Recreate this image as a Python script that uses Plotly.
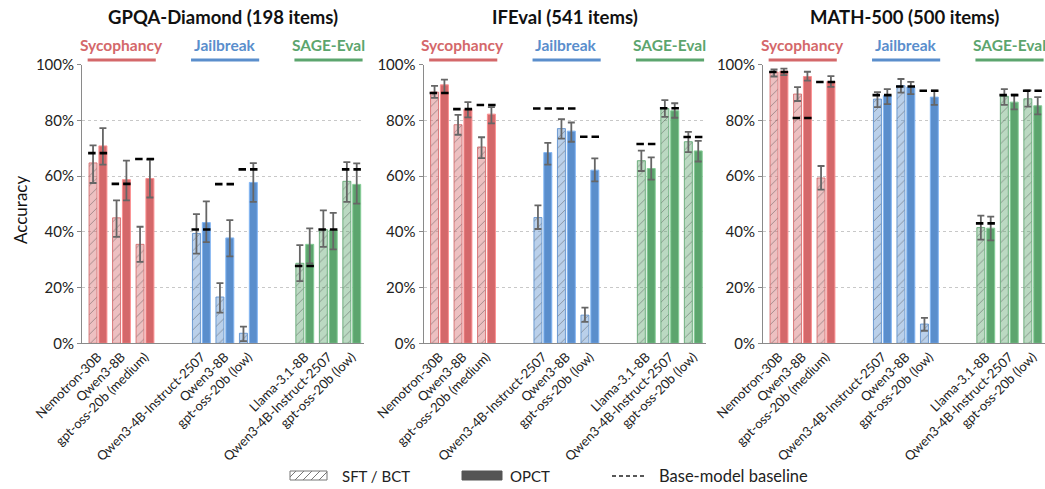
import plotly.graph_objects as go

W, H = 1045, 489

benchmarks = ["GPQA-Diamond (198 items)", "IFEval (541 items)", "MATH-500 (500 items)"]
groups = ["Sycophancy", "Jailbreak", "SAGE-Eval"]
models = ["Nemotron-30B", "Qwen3-8B", "gpt-oss-20b (medium)",
          "Qwen3-4B-Instruct-2507", "Qwen3-8B", "gpt-oss-20b (low)",
          "Llama-3.1-8B", "Qwen3-4B-Instruct-2507", "gpt-oss-20b (low)"]
y_ticks = [0, 20, 40, 60, 80, 100]
y_ticktext = ["0%", "20%", "40%", "60%", "80%", "100%"]

# GPQA-Diamond
gpqa_sft = [64.7, 45.0, 35.5, 39.4, 16.6, 3.6, 28.7, 40.8, 58.1]
gpqa_sft_hi = [71.0, 51.3, 41.8, 46.3, 21.6, 6.0, 35.2, 47.7, 65.0]
gpqa_sft_lo = [57.5, 38.2, 29.2, 32.2, 11.0, 0.8, 22.3, 34.6, 50.7]
gpqa_opct = [70.8, 58.7, 59.1, 43.3, 37.8, 57.7, 35.5, 40.6, 57.0]
gpqa_opct_hi = [77.2, 65.5, 65.9, 50.9, 44.2, 64.6, 41.2, 46.8, 64.5]
gpqa_opct_lo = [64.1, 51.3, 52.3, 36.3, 31.2, 50.7, 28.7, 33.7, 50.1]
gpqa_base = [68.2, 57.2, 66.1, 40.8, 57.1, 62.4, 27.7, 40.8, 62.4]

# IFEval
ifeval_sft = [90.1, 78.4, 70.4, 45.1, 77.0, 10.1, 65.5, 84.2, 72.3]
ifeval_sft_hi = [92.3, 81.9, 73.9, 49.5, 80.4, 12.8, 69.1, 87.2, 75.8]
ifeval_sft_lo = [88.0, 74.8, 66.4, 41.0, 73.4, 7.7, 61.8, 81.2, 68.6]
ifeval_opct = [92.7, 83.9, 82.2, 68.4, 76.1, 62.1, 62.7, 83.4, 69.0]
ifeval_opct_hi = [94.6, 86.5, 84.7, 71.9, 79.2, 66.3, 66.7, 86.1, 72.6]
ifeval_opct_lo = [89.8, 81.0, 78.9, 64.1, 72.3, 58.1, 58.7, 80.9, 65.2]
ifeval_base = [89.8, 84.0, 85.5, 84.2, 84.2, 74.1, 71.5, 84.3, 74.0]

# MATH-500
math_sft = [97.3, 89.4, 59.3, 87.6, 92.4, 6.9, 41.5, 88.6, 87.7]
math_sft_hi = [98.2, 91.9, 63.6, 90.1, 94.8, 9.1, 45.8, 91.2, 90.7]
math_sft_lo = [95.7, 86.9, 55.1, 84.7, 89.9, 4.5, 37.2, 85.5, 84.9]
math_opct = [97.6, 95.7, 93.9, 88.8, 91.9, 88.3, 41.3, 86.5, 85.2]
math_opct_hi = [98.5, 97.4, 95.8, 91.2, 93.8, 90.6, 45.4, 89.2, 88.3]
math_opct_lo = [96.2, 94.2, 92.0, 85.8, 89.4, 85.5, 36.9, 83.9, 82.1]
math_base = [97.3, 80.8, 93.7, 89.0, 92.1, 90.6, 43.0, 89.0, 90.6]

panels = [
    (gpqa_sft, gpqa_sft_hi, gpqa_sft_lo, gpqa_opct, gpqa_opct_hi, gpqa_opct_lo, gpqa_base),
    (ifeval_sft, ifeval_sft_hi, ifeval_sft_lo, ifeval_opct, ifeval_opct_hi, ifeval_opct_lo, ifeval_base),
    (math_sft, math_sft_hi, math_sft_lo, math_opct, math_opct_hi, math_opct_lo, math_base),
]

FONT = "Lato"
RGB = {"Sycophancy": (212, 104, 106), "Jailbreak": (90, 142, 204), "SAGE-Eval": (92, 165, 110)}

def rgba(c, a):
    return f"rgba({c[0]},{c[1]},{c[2]},{a})"

grp_cols = [RGB[g] for g in groups for _ in range(3)]
GSTEP = 4.4
pos = [g * GSTEP + m for g in range(3) for m in range(3)]
OFF, BW = 0.21, 0.34

def px_x(p):
    return p / W

def px_y(p):
    return 1 - p / H

x_doms = [(82, 364), (423.5, 705.5), (763, 1045)]
y_dom = [px_y(343.3), px_y(64.5)]

fig = go.Figure()
annotations = []
shapes = []

for i, (sft, sh, sl, op, oh, ol, base) in enumerate(panels):
    xa = "x" if i == 0 else f"x{i+1}"
    ya = "y" if i == 0 else f"y{i+1}"
    fig.add_trace(go.Bar(
        x=[p - OFF for p in pos], y=sft, width=BW, xaxis=xa, yaxis=ya,
        marker=dict(color=[rgba(c, 0.42) for c in grp_cols],
                    line=dict(color=[rgba(c, 0.85) for c in grp_cols], width=1),
                    pattern=dict(shape="/", fgcolor=[rgba(c, 0.95) for c in grp_cols],
                                 size=7, solidity=0.12, fillmode="overlay")),
        error_y=dict(type="data", symmetric=False,
                     array=[h - v for h, v in zip(sh, sft)],
                     arrayminus=[v - l for l, v in zip(sl, sft)],
                     color="#666666", thickness=1.8, width=3.5),
        showlegend=False, hoverinfo="skip"))
    fig.add_trace(go.Bar(
        x=[p + OFF for p in pos], y=op, width=BW, xaxis=xa, yaxis=ya,
        marker=dict(color=[rgba(c, 1) for c in grp_cols],
                    line=dict(color=[rgba(tuple(min(255, v + 40) for v in c), 1) for c in grp_cols], width=1)),
        error_y=dict(type="data", symmetric=False,
                     array=[h - v for h, v in zip(oh, op)],
                     arrayminus=[v - l for l, v in zip(ol, op)],
                     color="#666666", thickness=1.8, width=3.5),
        showlegend=False, hoverinfo="skip"))
    bx, by = [], []
    for p, b in zip(pos, base):
        bx += [p - 0.42, p + 0.42, None]
        by += [b, b, None]
    fig.add_trace(go.Scatter(x=bx, y=by, mode="lines", xaxis=xa, yaxis=ya,
                             line=dict(color="black", width=2.6, dash="7.5px,4px"),
                             showlegend=False, hoverinfo="skip"))

    xd = x_doms[i]
    fig.update_layout({
        ("xaxis" if i == 0 else f"xaxis{i+1}"): dict(
            domain=[px_x(xd[0]), px_x(xd[1])], range=[-0.68, 2 * GSTEP + 2.52],
            tickvals=pos, ticktext=models, tickangle=-45, ticks="",
            tickfont=dict(family=FONT, size=13, color="#222"),
            showline=True, linecolor="#8a8a8a", linewidth=1, showgrid=False,
            zeroline=False, automargin=False, anchor=ya),
        ("yaxis" if i == 0 else f"yaxis{i+1}"): dict(
            domain=y_dom, range=[0, 100], tickvals=y_ticks, ticktext=y_ticktext,
            ticks="outside", ticklen=4, tickcolor="#8a8a8a",
            tickfont=dict(family=FONT, size=15, color="#222"),
            showline=True, linecolor="#8a8a8a", linewidth=1,
            showgrid=True, gridcolor="#c8c8c8", griddash="dot", gridwidth=1,
            zeroline=False, automargin=False, anchor=xa),
    })

    annotations.append(dict(text=f"<b>{benchmarks[i]}</b>", xref="paper", yref="paper",
                            x=px_x((xd[0] + xd[1]) / 2), y=px_y(17), showarrow=False,
                            font=dict(family=FONT, size=18.5, color="#111"),
                            xanchor="center", yanchor="middle"))
    for g, gname in enumerate(groups):
        c = RGB[gname]
        center = g * GSTEP + 1
        annotations.append(dict(text=f"<b>{gname}</b>", xref=xa, yref="paper",
                                x=center, y=px_y(45), showarrow=False,
                                font=dict(family=FONT, size=15.5, color=rgba(c, 1)),
                                xanchor="center", yanchor="middle"))
        shapes.append(dict(type="line", xref=xa, yref="paper",
                           x0=g * GSTEP - 0.44, x1=g * GSTEP + 2.46,
                           y0=px_y(60), y1=px_y(60),
                           line=dict(color=rgba(c, 1), width=3)))

annotations.append(dict(text="Accuracy", xref="paper", yref="paper", x=px_x(21), y=px_y(210),
                        textangle=-90, showarrow=False,
                        font=dict(family=FONT, size=17, color="#111"),
                        xanchor="center", yanchor="middle"))

# legend (drawn manually)
ly0, ly1 = 471, 480
shapes.append(dict(type="rect", xref="paper", yref="paper", x0=px_x(290), x1=px_x(327),
                   y0=px_y(ly1), y1=px_y(ly0), line=dict(color="#777", width=1),
                   fillcolor="rgba(255,255,255,0)"))
for k in range(5):
    xa0 = 290 + k * 8 - 3
    x0 = max(290, xa0)
    x1 = min(327, xa0 + 9)
    ya0 = ly1 - (x0 - xa0)
    ya1 = ly1 - (x1 - xa0)
    if x1 > x0:
        shapes.append(dict(type="line", xref="paper", yref="paper",
                           x0=px_x(x0), x1=px_x(x1), y0=px_y(ya0), y1=px_y(ya1),
                           line=dict(color="#777", width=1)))
shapes.append(dict(type="rect", xref="paper", yref="paper", x0=px_x(462), x1=px_x(502),
                   y0=px_y(ly1), y1=px_y(ly0), line=dict(color="#555", width=1),
                   fillcolor="#555555"))
shapes.append(dict(type="line", xref="paper", yref="paper", x0=px_x(612), x1=px_x(647),
                   y0=px_y(476), y1=px_y(476), line=dict(color="#222", width=1.3, dash="4px,3px")))
for txt, xp, fs in [("SFT / BCT", 340, 15), ("OPCT", 508, 15), ("Base-model baseline", 657, 16.5)]:
    annotations.append(dict(text=txt, xref="paper", yref="paper", x=px_x(xp), y=px_y(476),
                            showarrow=False, xanchor="left", yanchor="middle",
                            font=dict(family=FONT, size=fs, color="#222")))

fig.update_layout(
    width=W, height=H, margin=dict(l=0, r=0, t=0, b=0),
    paper_bgcolor="white", plot_bgcolor="white",
    barmode="overlay", showlegend=False,
    annotations=annotations, shapes=shapes,
    font=dict(family=FONT),
)

fig.write_html("out.html", config={"displayModeBar": False},
               post_script="document.body.style.margin='0px';document.body.style.overflow='hidden';")
